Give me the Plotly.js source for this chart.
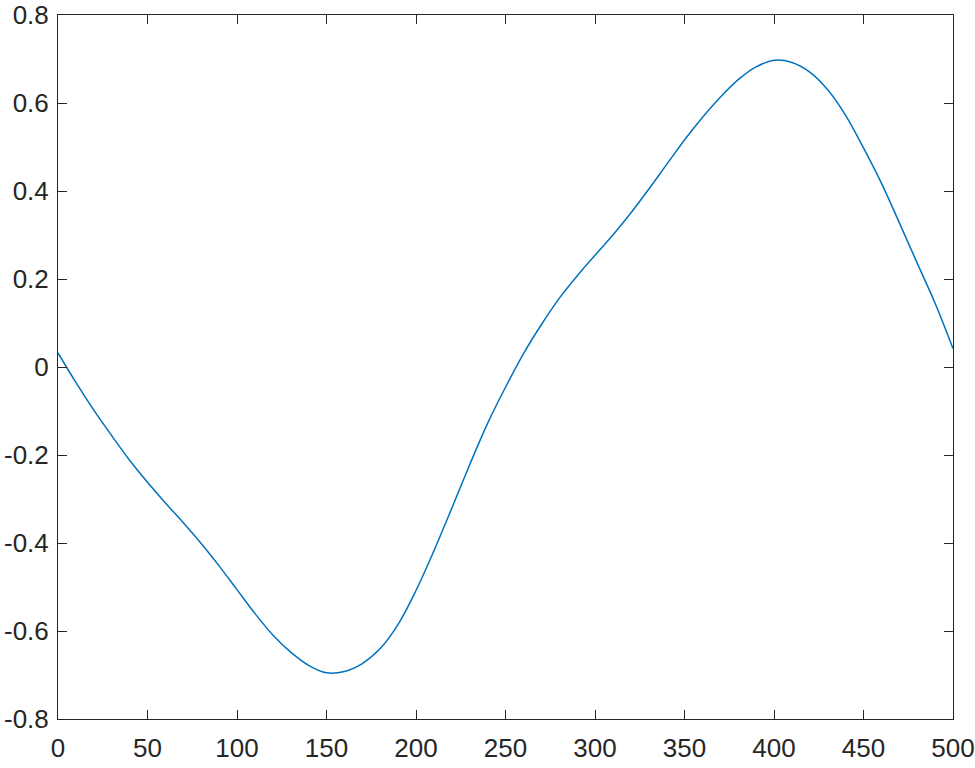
<!DOCTYPE html>
<html>
<head>
<meta charset="utf-8">
<script src="https://cdn.plot.ly/plotly-3.0.1.min.js"></script>
<style>
  html, body { margin: 0; padding: 0; background: #fff; }
  #chart { width: 975px; height: 768px; }
</style>
</head>
<body>
<div id="chart"></div>
<script>
// samples, every 10 units
var xs = [0, 10, 20, 30, 40, 50, 60, 70, 80, 90,
          100, 110, 120, 130, 140, 150, 160, 170, 180, 190,
          200, 210, 220, 230, 240, 250, 260, 270, 280, 290,
          300, 310, 320, 330, 340, 350, 360, 370, 380, 390,
          400, 410, 420, 430, 440, 450, 460, 470, 480, 490, 500];
var ys = [0.032, -0.035, -0.098, -0.156, -0.212, -0.262, -0.309, -0.354, -0.401, -0.452,
          -0.506, -0.560, -0.609, -0.648, -0.678, -0.695, -0.692, -0.674, -0.640, -0.585,
          -0.508, -0.418, -0.321, -0.222, -0.128, -0.046, 0.030, 0.096, 0.156, 0.207,
          0.254, 0.300, 0.350, 0.404, 0.460, 0.516, 0.567, 0.613, 0.653, 0.682,
          0.697, 0.692, 0.670, 0.630, 0.572, 0.498, 0.418, 0.328, 0.236, 0.145, 0.042];

var xTicks = [0, 50, 100, 150, 200, 250, 300, 350, 400, 450, 500];
var yTicks = [-0.8, -0.6, -0.4, -0.2, 0, 0.2, 0.4, 0.6, 0.8];
var yTickText = ['-0.8', '-0.6', '-0.4', '-0.2', '0', '0.2', '0.4', '0.6', '0.8'];

var axisColor = '#262626';

var data = [{
  type: 'scatter',
  mode: 'lines',
  x: xs,
  y: ys,
  line: { color: '#0072BD', width: 1.5, shape: 'spline', smoothing: 1 },
  hoverinfo: 'x+y'
}];

var axisBase = {
  showgrid: false,
  zeroline: false,
  showline: true,
  mirror: 'ticks',
  linecolor: axisColor,
  linewidth: 1,
  ticks: 'inside',
  ticklen: 9,
  tickwidth: 1,
  tickcolor: axisColor,
  tickfont: { family: 'Liberation Sans, Arial, sans-serif', size: 26, color: axisColor },
  tickmode: 'array',
  ticklabeloverflow: 'allow',
  autorange: false
};

var layout = {
  width: 975,
  height: 768,
  margin: { l: 58, r: 22, t: 15, b: 49 },
  paper_bgcolor: '#ffffff',
  plot_bgcolor: '#ffffff',
  showlegend: false,
  xaxis: Object.assign({}, axisBase, {
    range: [0, 500],
    tickvals: xTicks,
    ticklabelstandoff: 6
  }),
  yaxis: Object.assign({}, axisBase, {
    range: [-0.8, 0.8],
    tickvals: yTicks,
    ticktext: yTickText,
    ticklabelstandoff: 3
  })
};

Plotly.newPlot('chart', data, layout, { displayModeBar: false, staticPlot: true });
</script>
</body>
</html>
